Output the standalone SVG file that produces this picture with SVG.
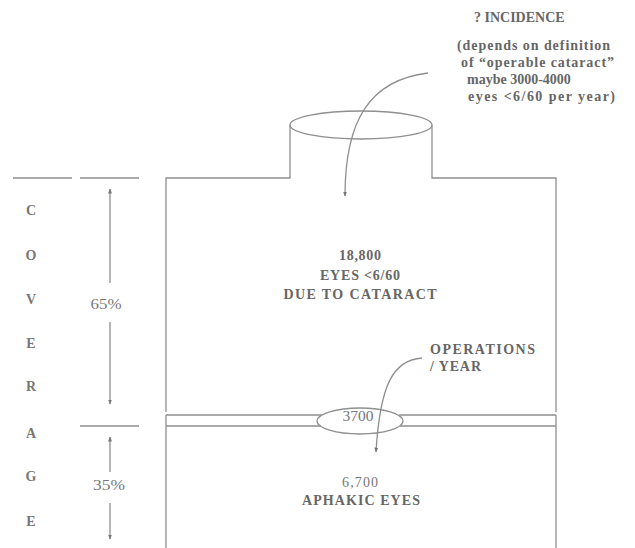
<svg xmlns="http://www.w3.org/2000/svg" width="635" height="548" viewBox="0 0 635 548">
<style>
.ln{fill:none;stroke:#8f8f8f;stroke-width:1.3}
.t{font-family:"Liberation Serif","Times New Roman",serif;font-weight:bold;font-size:14px;fill:#666}
.n{font-family:"Liberation Serif","Times New Roman",serif;font-size:14px;fill:#777}
.c{text-anchor:middle}
.L{font-family:"Liberation Serif","Times New Roman",serif;font-weight:bold;font-size:14px;fill:#777;text-anchor:middle}
</style>
<defs>
<marker id="ah" viewBox="0 0 10 10" refX="9" refY="5" markerWidth="5" markerHeight="5" orient="auto" markerUnits="userSpaceOnUse">
<path d="M0,1 L10,5 L0,9 z" fill="#777"/>
</marker>
</defs>
<rect width="635" height="548" fill="#fff"/>
<g id="reservoir">
<path class="ln" d="M166,412 L166,178 L290,178 L290,125"/>
<path class="ln" d="M432,125 L432,178 L556,178 L556,412"/>
<ellipse class="ln" cx="361" cy="125" rx="71" ry="14"/>
</g>
<g id="band">
<path class="ln" d="M166,415 L322,415 M399,415 L556,415 M166,426 L321,426 M400,426 L556,426"/>
<path class="ln" d="M166,415 L166,548 M556,415 L556,548"/>
<ellipse class="ln" cx="360" cy="421" rx="43" ry="13"/>
<text class="n c" x="358" y="421" textLength="31" lengthAdjust="spacingAndGlyphs">3700</text>
</g>
<g id="cataract">
<text class="t c" x="360" y="260" textLength="42" lengthAdjust="spacing">18,800</text>
<text class="t c" x="360" y="280" textLength="80" lengthAdjust="spacing">EYES &lt;6/60</text>
<text class="t c" x="360" y="299" textLength="153" lengthAdjust="spacing">DUE TO CATARACT</text>
</g>
<g id="aphakic">
<text class="n c" x="360" y="487" textLength="36" lengthAdjust="spacing">6,700</text>
<text class="t c" x="361" y="505" textLength="118" lengthAdjust="spacing">APHAKIC EYES</text>
</g>
<g id="incidence">
<text class="t" x="474" y="22">? INCIDENCE</text>
<text class="t" x="457" y="50" textLength="153" lengthAdjust="spacing">(depends on definition</text>
<text class="t" x="461" y="67" textLength="153" lengthAdjust="spacing">of  “operable cataract”</text>
<text class="t" x="467" y="84">maybe 3000-4000</text>
<text class="t" x="468" y="101" textLength="147" lengthAdjust="spacing">eyes &lt;6/60 per year)</text>
</g>
<g id="operations">
<text class="t" x="430" y="354" textLength="105" lengthAdjust="spacing">OPERATIONS</text>
<text class="t" x="430" y="371" textLength="51" lengthAdjust="spacing">/ YEAR</text>
</g>
<g id="coverage">
<path class="ln" d="M13,178 L72,178 M80,178 L139,178 M80,426 L139,426"/>
<text class="L" x="31" y="215">C</text>
<text class="L" x="31" y="260">O</text>
<text class="L" x="31" y="304">V</text>
<text class="L" x="31" y="348">E</text>
<text class="L" x="31" y="391">R</text>
<text class="L" x="31" y="438">A</text>
<text class="L" x="31" y="481">G</text>
<text class="L" x="31" y="526">E</text>
<text class="n c" x="106" y="309" textLength="31" lengthAdjust="spacingAndGlyphs">65%</text>
<text class="n c" x="109" y="490" textLength="32" lengthAdjust="spacingAndGlyphs">35%</text>
</g>
<g id="connectors">
<path class="ln" d="M110,283 L110,189" marker-end="url(#ah)"/>
<path class="ln" d="M110,322 L110,404" marker-end="url(#ah)"/>
<path class="ln" d="M110,472 L110,437" marker-end="url(#ah)"/>
<path class="ln" d="M110,503 L110,539" marker-end="url(#ah)"/>
<path class="ln" d="M428,73 C370,80 345,120 345,196" marker-end="url(#ah)"/>
<path class="ln" d="M422,358 C393,360 380,385 376,452" marker-end="url(#ah)"/>
</g>
</svg>
